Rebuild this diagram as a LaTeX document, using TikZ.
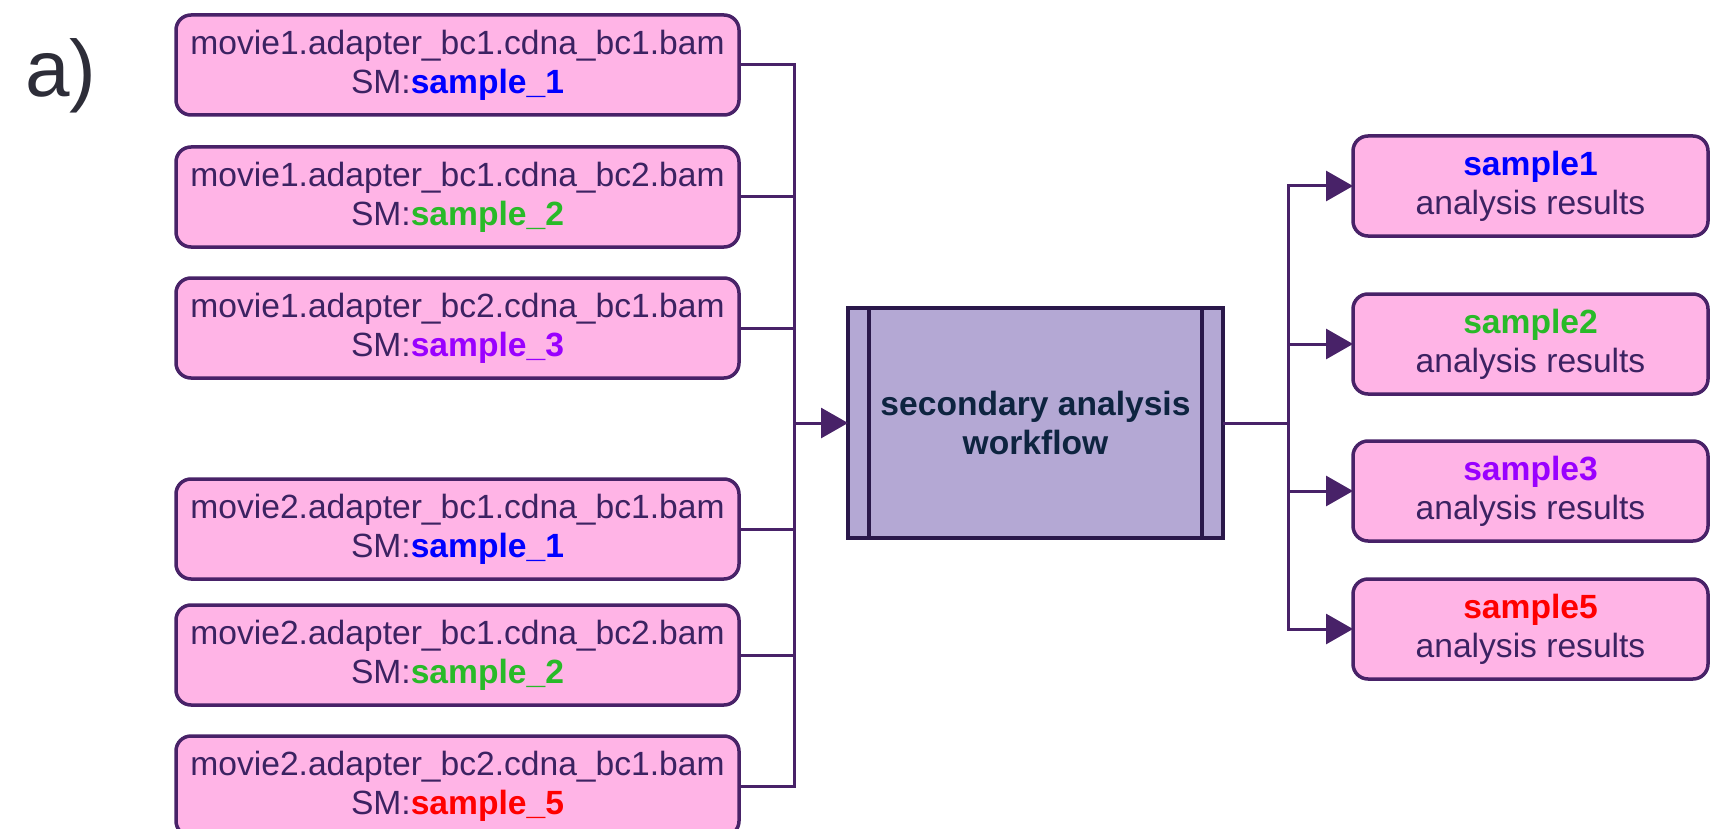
\documentclass[tikz,border=0pt]{standalone}
\usepackage{fontspec}
\setmainfont{Liberation Sans}
\usetikzlibrary{arrows.meta}

\definecolor{boxpink}{RGB}{255,180,230}
\definecolor{boxedge}{RGB}{72,34,104}
\definecolor{boxtext}{RGB}{60,34,98}
\definecolor{wffill}{RGB}{180,168,212}
\definecolor{wfedge}{RGB}{42,24,74}
\definecolor{wftext}{RGB}{14,36,64}
\definecolor{labelgray}{RGB}{45,45,56}
\definecolor{smblue}{RGB}{0,0,255}
\definecolor{smgreen}{RGB}{40,186,40}
\definecolor{smpurple}{RGB}{153,0,255}
\definecolor{smred}{RGB}{255,0,0}

\newcommand{\smp}[2]{\textbf{\color{#1}#2}}

\begin{document}
\begin{tikzpicture}[x=1pt,y=-1pt,
  txt/.style={font=\fontsize{33.6}{38.7}\selectfont, text=boxtext, align=center},
  filebox/.style={txt, draw=boxedge, fill=boxpink, line width=3.5pt,
    rounded corners=15pt, minimum width=563pt, minimum height=100pt,
    inner sep=0pt, outer sep=0pt},
  resultbox/.style={filebox, minimum width=355pt},
  wfbox/.style={draw=wfedge, fill=wffill, line width=4.5pt,
    minimum width=375pt, minimum height=230pt, inner sep=0pt, outer sep=0pt,
    font=\fontsize{33.6}{38.7}\selectfont\bfseries, text=wftext, align=center},
  link/.style={draw=boxedge, line width=3pt},
  tolink/.style={link, -{Triangle[length=27pt,width=30pt]}}
]
\clip (0,0) rectangle (1734,829);

% panel label
\node[anchor=base west, inner sep=0pt, text=labelgray,
  font=\fontsize{80}{90}\selectfont] (lbl) at (25,97) {a)};

% input BAM files
\node[filebox] (b1) at (457.5,65)  {movie1.adapter\_bc1.cdna\_bc1.bam\\SM:\smp{smblue}{sample\_1}};
\node[filebox] (b2) at (457.5,197) {movie1.adapter\_bc1.cdna\_bc2.bam\\SM:\smp{smgreen}{sample\_2}};
\node[filebox] (b3) at (457.5,328) {movie1.adapter\_bc2.cdna\_bc1.bam\\SM:\smp{smpurple}{sample\_3}};
\node[filebox] (b4) at (457.5,529) {movie2.adapter\_bc1.cdna\_bc1.bam\\SM:\smp{smblue}{sample\_1}};
\node[filebox] (b5) at (457.5,655) {movie2.adapter\_bc1.cdna\_bc2.bam\\SM:\smp{smgreen}{sample\_2}};
\node[filebox] (b6) at (457.5,786) {movie2.adapter\_bc2.cdna\_bc1.bam\\SM:\smp{smred}{sample\_5}};

% workflow block
\node[wfbox] (wf) at (1035.5,423) {secondary analysis\\workflow};
\draw[draw=wfedge, line width=4pt]
  ([xshift=21pt]wf.north west) -- ([xshift=21pt]wf.south west)
  ([xshift=-21pt]wf.north east) -- ([xshift=-21pt]wf.south east);

% per-sample results
\node[resultbox] (r1) at (1530.5,186) {\smp{smblue}{sample1}\\analysis results};
\node[resultbox] (r2) at (1530.5,344) {\smp{smgreen}{sample2}\\analysis results};
\node[resultbox] (r3) at (1530.5,491) {\smp{smpurple}{sample3}\\analysis results};
\node[resultbox] (r4) at (1530.5,629) {\smp{smred}{sample5}\\analysis results};

% junction points of the two buses
\coordinate (jin) at (794,423);
\coordinate (jout) at (1288,423);

% gather inputs
\foreach \b in {b1,b2,b3,b4,b5,b6}
  \draw[link] (\b.east) -| (jin);
\draw[tolink] (jin) -- (wf.west);

% fan out results
\draw[link] (wf.east) -- (jout);
\foreach \r in {r1,r2,r3,r4}
  \draw[tolink] (jout) |- (\r.west);
\end{tikzpicture}
\end{document}
